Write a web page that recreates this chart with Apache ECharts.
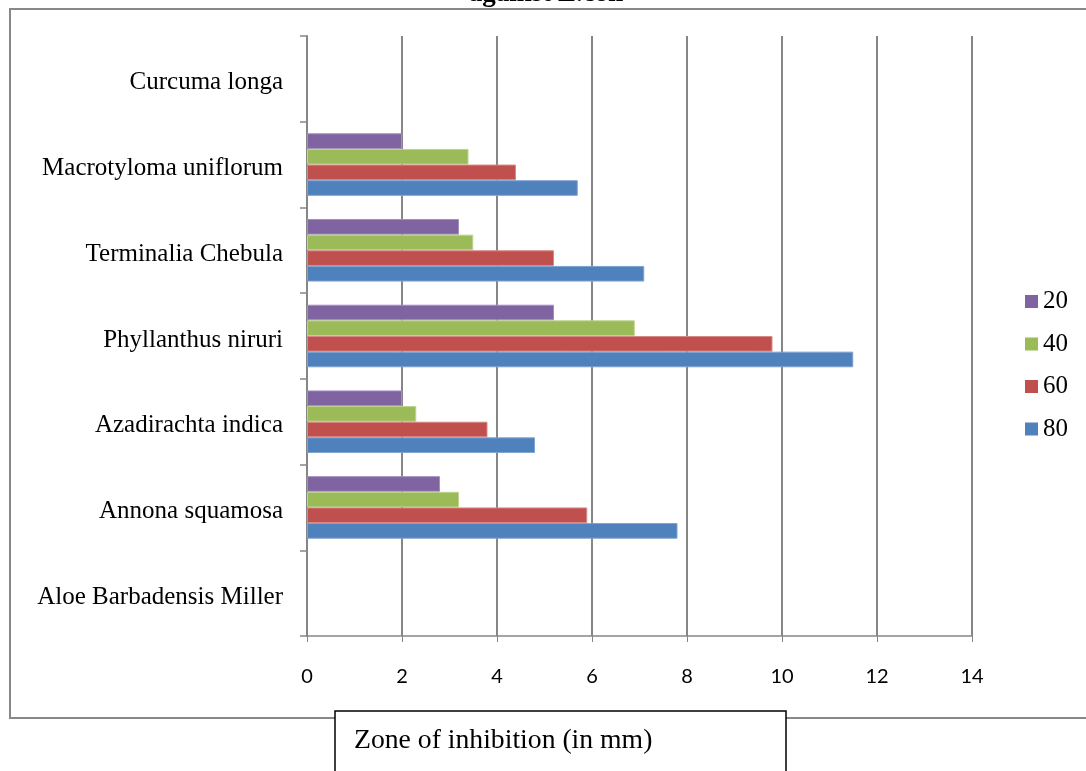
<!DOCTYPE html>
<html><head><meta charset="utf-8">
<script src="https://cdn.jsdelivr.net/npm/echarts@6/dist/echarts.min.js"></script>
<style>html,body{margin:0;padding:0;background:#fff}#c{width:1086px;height:771px}</style>
</head><body><div id="c"></div>
<script>
const categories = ['Aloe Barbadensis Miller','Annona squamosa','Azadirachta indica','Phyllanthus niruri','Terminalia Chebula','Macrotyloma uniflorum','Curcuma longa'];
const s80 = [null, 7.8, 4.8, 11.5, 7.1, 5.7, null];
const s60 = [null, 5.9, 3.8, 9.8, 5.2, 4.4, null];
const s40 = [null, 3.2, 2.3, 6.9, 3.5, 3.4, null];
const s20 = [null, 2.8, 2.0, 5.2, 3.2, 2.0, null];
const legendOrder = ['20','40','60','80'];
const xTicks = [0,2,4,6,8,10,12,14];

const serif = '"Liberation Serif","Times New Roman",serif';
const sans = 'Lato,"Open Sans",sans-serif';
const chart = echarts.init(document.getElementById('c'), null, {renderer:'canvas'});
function bar(name, data, color, border){
  return {name, type:'bar', data, barGap:'0%', barCategoryGap:'27%',
    itemStyle:{color, borderColor:border, borderWidth:1}};
}
chart.setOption({
  animation:false,
  graphic:[
    {type:'rect', shape:{x:10,y:9,width:1100,height:709}, style:{fill:'none', stroke:'#888', lineWidth:2}, z:-1},
    {type:'text', x:546, y:-6, style:{text:'against E.coli', font:'bold 27px '+serif, fill:'#000', textAlign:'center', textVerticalAlign:'middle'}},
    {type:'rect', shape:{x:335,y:711,width:451,height:100}, style:{fill:'#fff', stroke:'#000', lineWidth:1.5}, z:10},
    {type:'text', x:354, y:741, style:{text:'Zone of inhibition (in mm)', font:'27.7px '+serif, fill:'#000', textVerticalAlign:'middle'}, z:11}
  ],
  legend:{orient:'vertical', left:1025, top:289, padding:0, itemWidth:13, itemHeight:13, itemGap:17.5,
    data:legendOrder, textStyle:{fontFamily:serif, fontSize:25, color:'#000'},
    icon:'rect', itemStyle:{borderWidth:0}},
  grid:{left:307, right:114, top:36, bottom:135, containLabel:false},
  xAxis:{type:'value', min:0, max:14, interval:2,
    axisLine:{show:true, lineStyle:{color:'#868686', width:1.5}},
    axisTick:{show:true, length:6, lineStyle:{color:'#868686'}},
    axisLabel:{margin:31, fontFamily:sans, fontSize:20, color:'#000',
      formatter:v=>xTicks.includes(v)?String(v):''},
    splitLine:{show:true, lineStyle:{color:'#868686', width:2}}},
  yAxis:{type:'category', data:categories,
    axisLine:{show:true, lineStyle:{color:'#868686', width:2}},
    axisTick:{show:true, length:7, lineStyle:{color:'#868686', width:1.5}},
    axisLabel:{margin:24, fontFamily:serif, fontSize:25, color:'#000', verticalAlign:'top', lineHeight:8},
    splitLine:{show:false}},
  series:[
    bar('20', s20, '#8064A2', '#A28FC0'),
    bar('40', s40, '#9BBB59', '#BDD38F'),
    bar('60', s60, '#C0504D', '#D98987'),
    bar('80', s80, '#4F81BD', '#7FA3D0')
  ]
});
</script></body></html>
